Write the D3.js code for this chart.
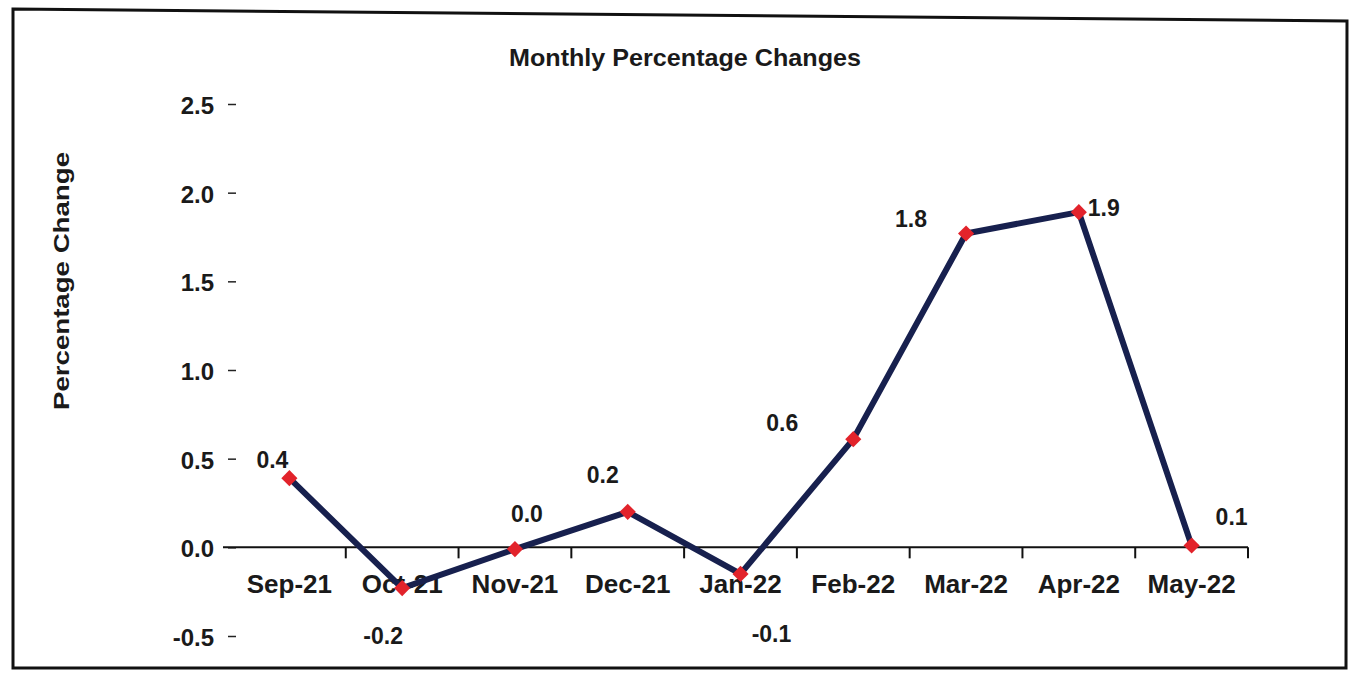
<!DOCTYPE html>
<html>
<head>
<meta charset="utf-8">
<script src="https://cdn.jsdelivr.net/npm/d3@7"></script>
<style>
  body { margin: 0; background: #fff; }
  svg text { font-family: "Liberation Sans", Arial, sans-serif; font-weight: bold; fill: #1a1a1a; }
</style>
</head>
<body>
<figure id="chart" style="margin:0"></figure>
<script>
// data
var months = ["Sep-21", "Oct-21", "Nov-21", "Dec-21", "Jan-22", "Feb-22", "Mar-22", "Apr-22", "May-22"];
var changes = [0.39, -0.23, -0.01, 0.2, -0.15, 0.61, 1.77, 1.89, 0.01];
var valueLabels = ["0.4", "-0.2", "0.0", "0.2", "-0.1", "0.6", "1.8", "1.9", "0.1"];
var yTicks = [-0.5, 0.0, 0.5, 1.0, 1.5, 2.0, 2.5];

// where each value label sits relative to its marker (hand placed, like the original)
var labelOffsets = [[-17, -10], [-19, 56], [12, -27], [-25, -29], [31, 68], [-71, -8], [-55, -6], [25, 4], [40, -21]];

var dimensions = {
    width: 1354,
    height: 677,
    margin: {
        top: 104,
        right: 106,
        bottom: 41,
        left: 233,
    },
};

dimensions.boundedWidth = dimensions.width - dimensions.margin.left - dimensions.margin.right;
dimensions.boundedHeight = dimensions.height - dimensions.margin.top - dimensions.margin.bottom;

var svg = d3.select("figure#chart")
    .append("svg")
    .attr("width", dimensions.width)
    .attr("height", dimensions.height);

// scanned frame round the chart
svg.append("path")
    .attr("d", "M13,9 L1347,21 L1346,668 L13,668 Z")
    .attr("fill", "none")
    .attr("stroke", "#111")
    .attr("stroke-width", 3);

var g = svg.append("g")
    .attr("transform", `translate(${dimensions.margin.left},${dimensions.margin.top})`);

var xScale = d3.scaleBand()
    .domain(months)
    .range([0, dimensions.boundedWidth])
    .padding(0);

var yScale = d3.scaleLinear()
    .domain([-0.5, 2.5])
    .range([dimensions.boundedHeight, 0]);

// title (the scan stretches the type a little, so fix its length)
svg.append("text")
    .attr("x", 685)
    .attr("y", 66)
    .attr("text-anchor", "middle")
    .attr("textLength", 352)
    .attr("lengthAdjust", "spacingAndGlyphs")
    .style("font-size", "24px")
    .text("Monthly  Percentage Changes");

// y axis title
svg.append("text")
    .attr("transform", "translate(69,281) rotate(-90)")
    .attr("text-anchor", "middle")
    .attr("textLength", 258)
    .attr("lengthAdjust", "spacingAndGlyphs")
    .style("font-size", "22px")
    .text("Percentage Change");

// y axis: only labels and short dashes
var yAxis = g.append("g")
    .attr("class", "y axis")
    .attr("transform", "translate(3,0)")
    .call(d3.axisLeft(yScale).tickValues(yTicks).tickFormat(d => d.toFixed(1)).tickSize(8).tickPadding(14));
yAxis.select(".domain").remove();
yAxis.selectAll("line").attr("stroke", "#222").attr("stroke-width", 1.5);
yAxis.selectAll("text")
    .attr("dy", "0.4em")
    .style("font-size", "24px")
    .style("font-family", "'Liberation Sans', Arial, sans-serif")
    .attr("fill", "#1a1a1a");

// x axis along zero
var xAxis = g.append("g")
    .attr("class", "x axis")
    .attr("transform", `translate(0,${yScale(0)})`)
    .call(d3.axisBottom(xScale).tickSize(0).tickPadding(27));
xAxis.select(".domain").remove();
xAxis.selectAll("text")
    .style("font-size", "26px")
    .style("font-family", "'Liberation Sans', Arial, sans-serif")
    .attr("fill", "#1a1a1a");

xAxis.append("line")
    .attr("x1", -10)
    .attr("x2", dimensions.boundedWidth)
    .attr("stroke", "#111")
    .attr("stroke-width", 2);

// tick marks sit between the months
xAxis.selectAll(".boundary")
    .data(months)
    .enter()
    .append("line")
    .attr("class", "boundary")
    .attr("x1", d => xScale(d) + xScale.bandwidth())
    .attr("x2", d => xScale(d) + xScale.bandwidth())
    .attr("y1", 0)
    .attr("y2", 11)
    .attr("stroke", "#111")
    .attr("stroke-width", 2);

var cx = d => xScale(d) + xScale.bandwidth() / 2;

var line = d3.line()
    .x((d, i) => cx(months[i]))
    .y(d => yScale(d));

g.append("path")
    .datum(changes)
    .attr("d", line)
    .attr("fill", "none")
    .attr("stroke", "#17204e")
    .attr("stroke-width", 6)
    .attr("stroke-linejoin", "round");

g.selectAll(".marker")
    .data(changes)
    .enter()
    .append("path")
    .attr("class", "marker")
    .attr("d", d3.symbol().type(d3.symbolSquare).size(130))
    .attr("transform", (d, i) => `translate(${cx(months[i])},${yScale(d)}) rotate(45)`)
    .attr("fill", "#e2232b");

g.selectAll(".value")
    .data(changes)
    .enter()
    .append("text")
    .attr("class", "value")
    .attr("x", (d, i) => cx(months[i]) + labelOffsets[i][0])
    .attr("y", (d, i) => yScale(d) + labelOffsets[i][1])
    .attr("text-anchor", "middle")
    .style("font-size", "23px")
    .text((d, i) => valueLabels[i]);
</script>
</body>
</html>
